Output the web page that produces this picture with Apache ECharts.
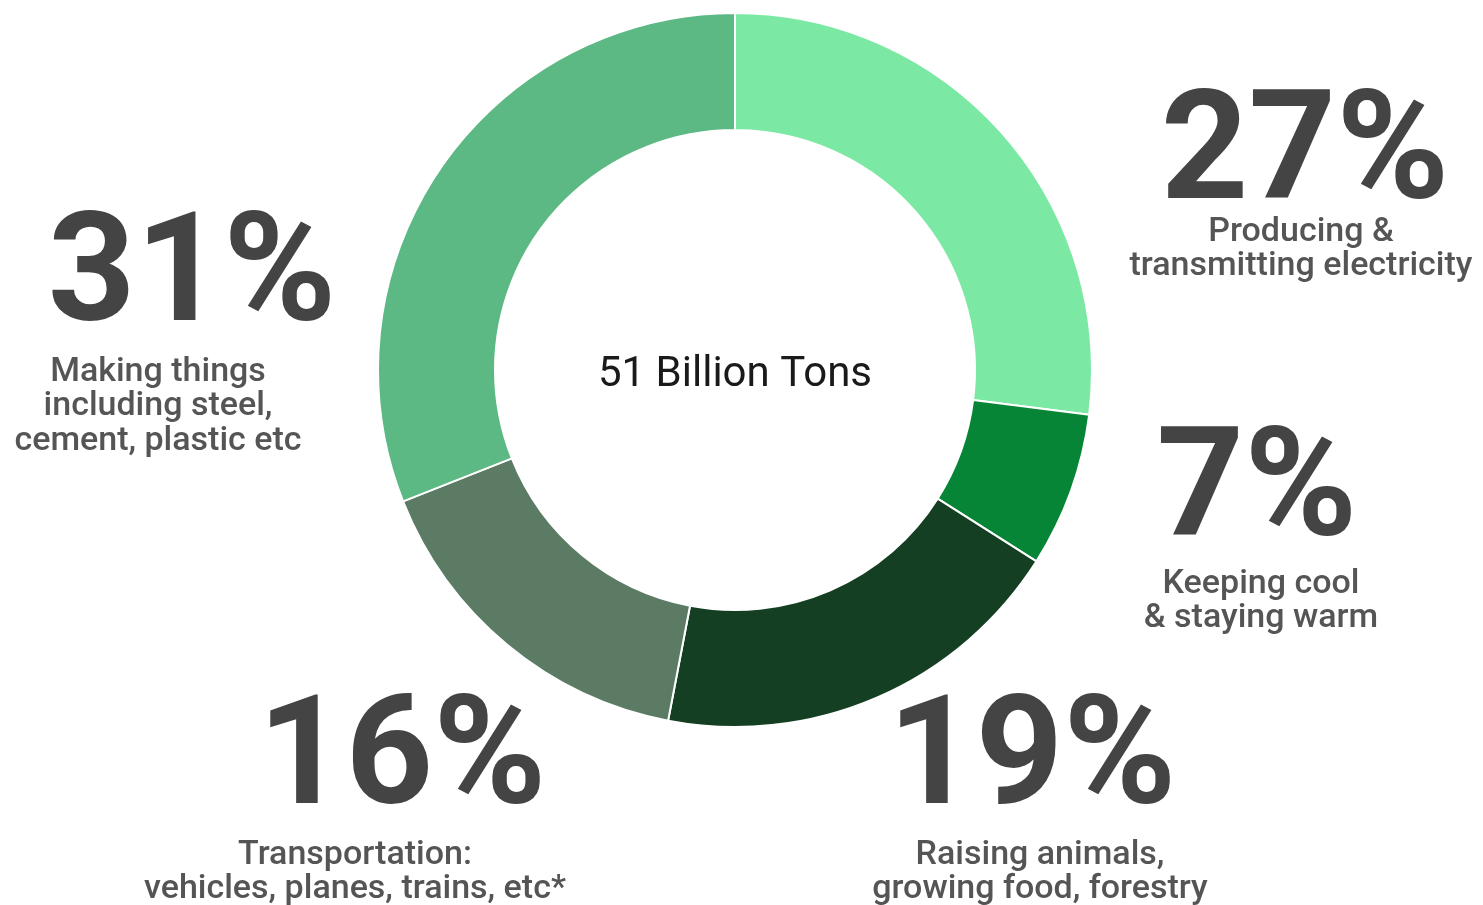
<!DOCTYPE html>
<html>
<head>
<meta charset="utf-8">
<title>51 Billion Tons</title>
<script src="https://cdn.jsdelivr.net/npm/echarts@6/dist/echarts.min.js"></script>
<style>
  html, body { margin: 0; padding: 0; background: #fff; }
  #chart { width: 1483px; height: 905px; }
</style>
</head>
<body>
<div id="chart"></div>
<script>
// Annual greenhouse gas emissions by activity
const categories = [
  'Producing &\ntransmitting electricity',
  'Keeping cool\n& staying warm',
  'Raising animals,\ngrowing food, forestry',
  'Transportation:\nvehicles, planes, trains, etc*',
  'Making things\nincluding steel,\ncement, plastic etc'
];
const shares = [27, 7, 19, 16, 31];
const colors = ['#7be9a4', '#078536', '#143f23', '#5b7b65', '#5cb983'];
const totalLabel = '51 Billion Tons';

// Caption block anchors: [percent centre x, percent top y, caption centre x, caption top y]
const captionPlaces = [
  [1305, 83, 1301, 215],
  [1257, 420, 1261, 567],
  [1032, 688, 1040, 838],
  [402, 688, 355, 838],
  [192, 205, 158, 355]
];

const chart = echarts.init(document.getElementById('chart'), null, { renderer: 'canvas' });

const graphics = [];
shares.forEach((v, i) => {
  const p = captionPlaces[i];
  graphics.push({
    type: 'text',
    x: p[0], y: p[1],
    style: {
      text: v + '%',
      font: 'bold 153px Roboto',
      fill: '#444444',
      align: 'center',
      verticalAlign: 'top'
    }
  });
  graphics.push({
    type: 'text',
    x: p[2], y: p[3],
    style: {
      text: categories[i],
      font: '500 34px Roboto',
      fill: '#555555',
      align: 'center',
      verticalAlign: 'top',
      lineHeight: 34.5
    }
  });
});
graphics.push({
  type: 'text',
  x: 735, y: 375,
  style: {
    text: totalLabel,
    font: '42px Roboto',
    fill: '#1a1a1a',
    align: 'center',
    verticalAlign: 'middle'
  }
});

chart.setOption({
  animation: false,
  series: [{
    type: 'pie',
    center: [735, 370],
    radius: [240, 357],
    startAngle: 90,
    clockwise: true,
    label: { show: false },
    labelLine: { show: false },
    emphasis: { disabled: true },
    itemStyle: { borderColor: '#ffffff', borderWidth: 2 },
    data: shares.map((v, i) => ({
      value: v,
      name: categories[i],
      itemStyle: { color: colors[i] }
    }))
  }],
  graphic: graphics
});
</script>
</body>
</html>
